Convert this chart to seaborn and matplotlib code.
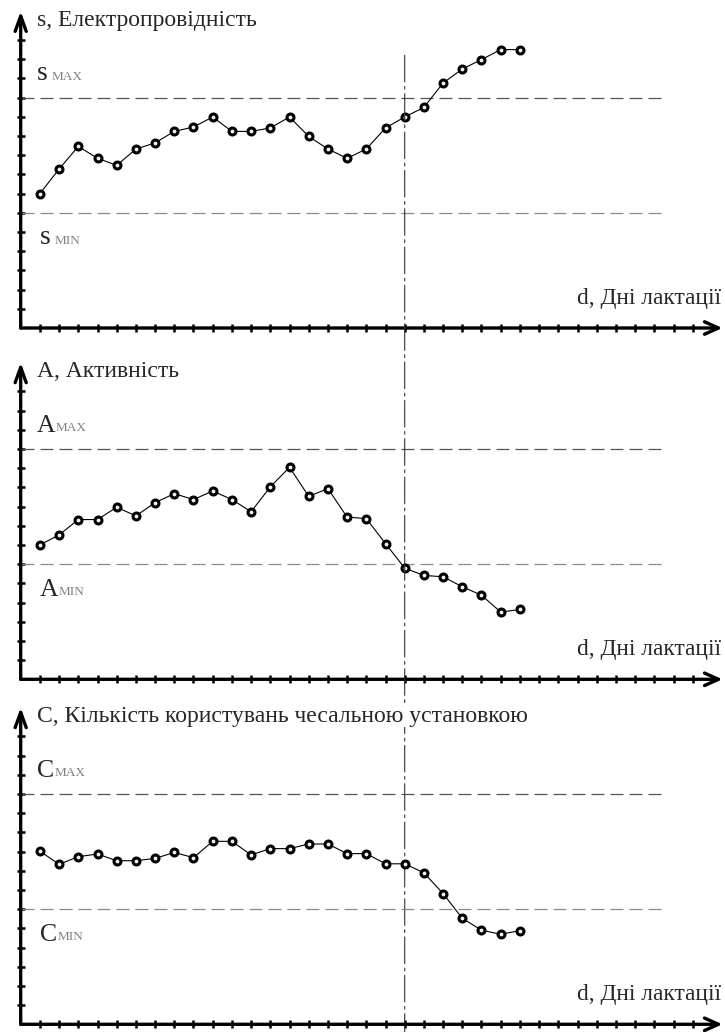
import pandas as pd
import matplotlib.pyplot as plt
import seaborn as sns
from matplotlib.patches import ConnectionPatch

# --- дані (умовні одиниці сітки) ---
days = list(range(1, 27))
s_vals = [7.0, 8.28, 9.46, 8.84, 8.47, 9.32, 9.64, 10.24, 10.47, 10.99, 10.24, 10.24, 10.42,
          10.99, 9.98, 9.32, 8.84, 9.32, 10.42, 10.99, 11.49, 12.76, 13.49, 13.98, 14.5, 14.5]
a_vals = [7.0, 7.52, 8.32, 8.32, 8.96, 8.51, 9.2, 9.67, 9.36, 9.81, 9.36, 8.73, 10.02,
          11.04, 9.53, 9.93, 8.45, 8.37, 7.07, 5.79, 5.41, 5.34, 4.82, 4.38, 3.5, 3.64]
c_vals = [9.02, 8.33, 8.73, 8.87, 8.52, 8.52, 8.64, 8.95, 8.68, 9.53, 9.53, 8.82, 9.15,
          9.15, 9.39, 9.39, 8.89, 8.89, 8.36, 8.36, 7.89, 6.81, 5.52, 4.9, 4.69, 4.88]

titles = ['s, Електропровідність', 'A, Активність',
          'C, Кількість користувань чесальною установкою']
letters = ['s', 'A', 'C']
x_label = 'd, Дні лактації'
level_max = 12
level_min = 6
day_mark = 20
x_ticks = list(range(1, 36))
y_ticks = list(range(1, 16))

# --- геометрія ---
W, H = 725, 1032
unit = 19.2
x0 = 20.7
xmax, ymax = 36.6, 16.9
origins = [328, 679.3, 1024.3]

sns.set_theme(style='white')
plt.rcParams['font.family'] = ['Liberation Serif', 'DejaVu Serif']

fig = plt.figure(figsize=(W / 100, H / 100), dpi=100)
axes = []
for title, letter, vals, oy in zip(titles, letters, [s_vals, a_vals, c_vals], origins):
    ax = fig.add_axes([x0 / W, (H - oy) / H, xmax * unit / W, ymax * unit / H])
    ax.set_facecolor('none')
    df = pd.DataFrame({'day': days, 'value': vals})

    # рівні MAX / MIN
    ax.hlines(level_max, 0, 33.5, colors='#555555', lw=0.9, linestyles=(0, (10.4, 4.8)))
    ax.hlines(level_min, 0, 33.5, colors='#8a8a8a', lw=0.9, linestyles=(0, (10.4, 4.8)))

    sns.lineplot(data=df, x='day', y='value', ax=ax, color='black', lw=0.8,
                 marker='o', markersize=5, markeredgewidth=2.2,
                 markeredgecolor='black', markerfacecolor='#f0f0f0', zorder=5)

    ax.set_xlim(0, xmax)
    ax.set_ylim(0, ymax)
    ax.set_xlabel('')
    ax.set_ylabel('')
    for sp in ax.spines.values():
        sp.set_visible(False)
    ax.set_xticks(x_ticks)
    ax.set_yticks(y_ticks)
    ax.tick_params(direction='inout', length=6, width=1.8, color='black',
                   bottom=True, left=True, labelbottom=False, labelleft=False)

    # осі зі стрілками
    ax.annotate('', xy=(0, 16.5), xytext=(0, 0),
                arrowprops=dict(arrowstyle='->,head_length=1.1,head_width=0.4', lw=2.4,
                                color='black', shrinkA=0, shrinkB=0, mutation_scale=10))
    ax.annotate('', xy=(36.55, 0), xytext=(0, 0),
                arrowprops=dict(arrowstyle='->,head_length=1.0,head_width=0.45', lw=2.4,
                                color='black', shrinkA=0, shrinkB=0, mutation_scale=10))

    # підписи
    ax.text(0.83, 15.73, title, fontsize=17, va='baseline',
            bbox=dict(facecolor='white', edgecolor='none', pad=0))
    ax.text(36.5, 1.25, x_label, fontsize=16.8, ha='right', va='baseline')

    big = 20 if letter == 's' else 18.5
    gap = 3 if letter == 's' else 0.3
    for lvl_y, sub in [(12.9, 'MAX'), (4.35, 'MIN')]:
        t = ax.text(0.85 if sub == 'MAX' else 1.0, lvl_y, letter, fontsize=big, va='baseline')
        ax.annotate(sub, xy=(1, 0), xycoords=t, xytext=(gap, 0.217 * big),
                    textcoords='offset points', fontsize=9.5, color='#808080', va='baseline')
    axes.append(ax)

# вертикальна лінія (день 20) через усі панелі
con = ConnectionPatch(xyA=(day_mark, 14.2), coordsA=axes[0].transData,
                      xyB=(day_mark, -0.5), coordsB=axes[2].transData,
                      color='#333333', lw=0.8, linestyle=(0, (24, 4, 2.5, 4)),
                      clip_on=False, zorder=1)
axes[2].add_artist(con)

plt.savefig('out.png', dpi=100)
